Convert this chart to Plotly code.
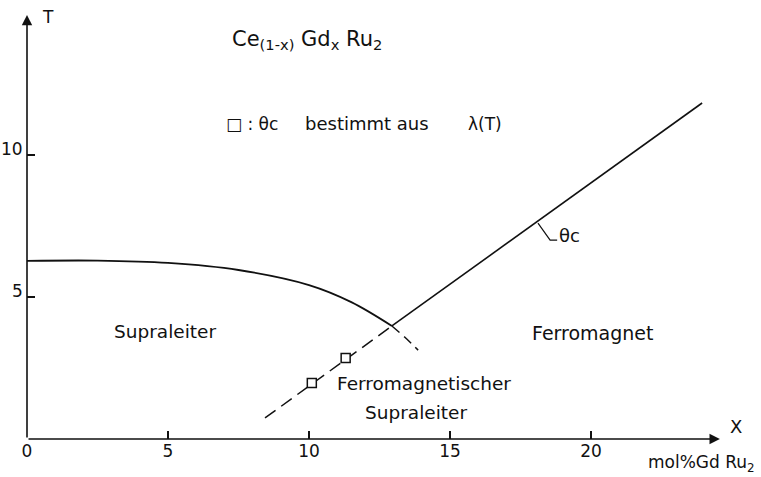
import plotly.graph_objects as go

# Phase boundary superconductor (solid) and its dashed continuation
sc_x = [0, 2.5, 5, 7.5, 10, 11.5, 12.94]
sc_T = [6.27, 6.28, 6.2, 5.95, 5.42, 4.82, 3.98]
sc_ext_x = [12.94, 13.4, 13.87]
sc_ext_T = [3.98, 3.58, 3.13]

# Curie temperature line (solid) and dashed part below
fm_x = [12.94, 23.94]
fm_T = [3.98, 11.83]
fm_dash_x = [8.44, 12.94]
fm_dash_T = [0.74, 3.98]

# theta_c measured from lambda(T)
pts_x = [10.1, 11.3]
pts_T = [1.97, 2.85]

x_ticks = [0, 5, 10, 15, 20]
y_ticks = [5, 10]

FONT = "DejaVu Sans"
INK = "#111111"

fig = go.Figure()

fig.add_trace(go.Scatter(x=sc_x, y=sc_T, mode="lines",
                         line=dict(color=INK, width=1.8, shape="spline"), showlegend=False))
fig.add_trace(go.Scatter(x=sc_ext_x, y=sc_ext_T, mode="lines",
                         line=dict(color=INK, width=1.5, dash="10px,6px", shape="spline"), showlegend=False))
fig.add_trace(go.Scatter(x=fm_x, y=fm_T, mode="lines",
                         line=dict(color=INK, width=1.6), showlegend=False))
fig.add_trace(go.Scatter(x=fm_dash_x, y=fm_dash_T, mode="lines",
                         line=dict(color=INK, width=1.5, dash="13px,7px"), showlegend=False))
fig.add_trace(go.Scatter(x=pts_x, y=pts_T, mode="markers",
                         marker=dict(symbol="square", size=9, color="white",
                                     line=dict(color=INK, width=1.5)), showlegend=False))
# leader for theta_c label
fig.add_trace(go.Scatter(x=[18.12, 18.55, 18.8], y=[7.6, 7.0, 7.0], mode="lines",
                         line=dict(color=INK, width=1.2), showlegend=False))

# axes with arrows
for tip, tail in [((0, 14.93), (0, 0)), ((24.57, 0), (0, 0))]:
    fig.add_annotation(x=tip[0], y=tip[1], ax=tail[0], ay=tail[1], xref="x", yref="y",
                       axref="x", ayref="y", text="", showarrow=True, arrowhead=2,
                       arrowsize=1.3, arrowwidth=1.6, arrowcolor=INK)

def label(x, y, text, size=17, xanchor="center", xref="x", yref="y"):
    fig.add_annotation(x=x, y=y, xref=xref, yref=yref, text=text, showarrow=False,
                       xanchor=xanchor, yanchor="middle",
                       font=dict(family=FONT, size=size, color=INK))

label(7.2, 14.05, "Ce<sub>(1-x)</sub> Gd<sub>x</sub> Ru<sub>2</sub>", size=21, xanchor="left")
label(7.0, 11.1, "□ : θc", size=17, xanchor="left")
label(9.8, 11.1, "bestimmt aus", size=18, xanchor="left")
label(15.55, 11.1, "λ(T)", size=17, xanchor="left")
label(4.9, 3.77, "Supraleiter", size=18.5)
label(14.08, 1.97, "Ferromagnetischer", size=18.5)
label(13.79, 0.95, "Supraleiter", size=18.5)
label(20.07, 3.73, "Ferromagnet", size=19)
label(18.8, 7.15, "θc", size=18, xanchor="left")
label(0.45, 14.85, "T", size=17, xanchor="left")
label(24.85, 0.45, "X", size=18, xanchor="left")
label(1.036, -0.056, "mol%Gd Ru<sub>2</sub>", size=17, xanchor="right", xref="paper", yref="paper")

# y tick labels sit slightly above their ticks
for v in y_ticks:
    fig.add_annotation(x=0, y=v, xref="x", yref="y", text=str(v), showarrow=False,
                       xanchor="right", yanchor="middle", xshift=-2, yshift=6,
                       font=dict(family=FONT, size=17, color=INK))

fig.update_xaxes(range=[0, 25], showgrid=False, zeroline=False, showline=False, automargin=False,
                 tickvals=x_ticks, ticks="inside", ticklen=8, tickwidth=1.5, tickcolor=INK,
                 tickfont=dict(family=FONT, size=17, color=INK))
fig.update_yaxes(range=[0, 15.21], showgrid=False, zeroline=False, showline=False, automargin=False,
                 tickvals=y_ticks, showticklabels=False, ticks="inside", ticklen=8,
                 tickwidth=1.5, tickcolor=INK)

fig.update_layout(width=761, height=477, plot_bgcolor="white", paper_bgcolor="white",
                  margin=dict(l=27, r=29, t=7, b=38))

# drop the default body margin so the figure sits at the window's corner
fig.write_html("out.html", config={"displayModeBar": False},
               post_script="document.body.style.margin='0';")
